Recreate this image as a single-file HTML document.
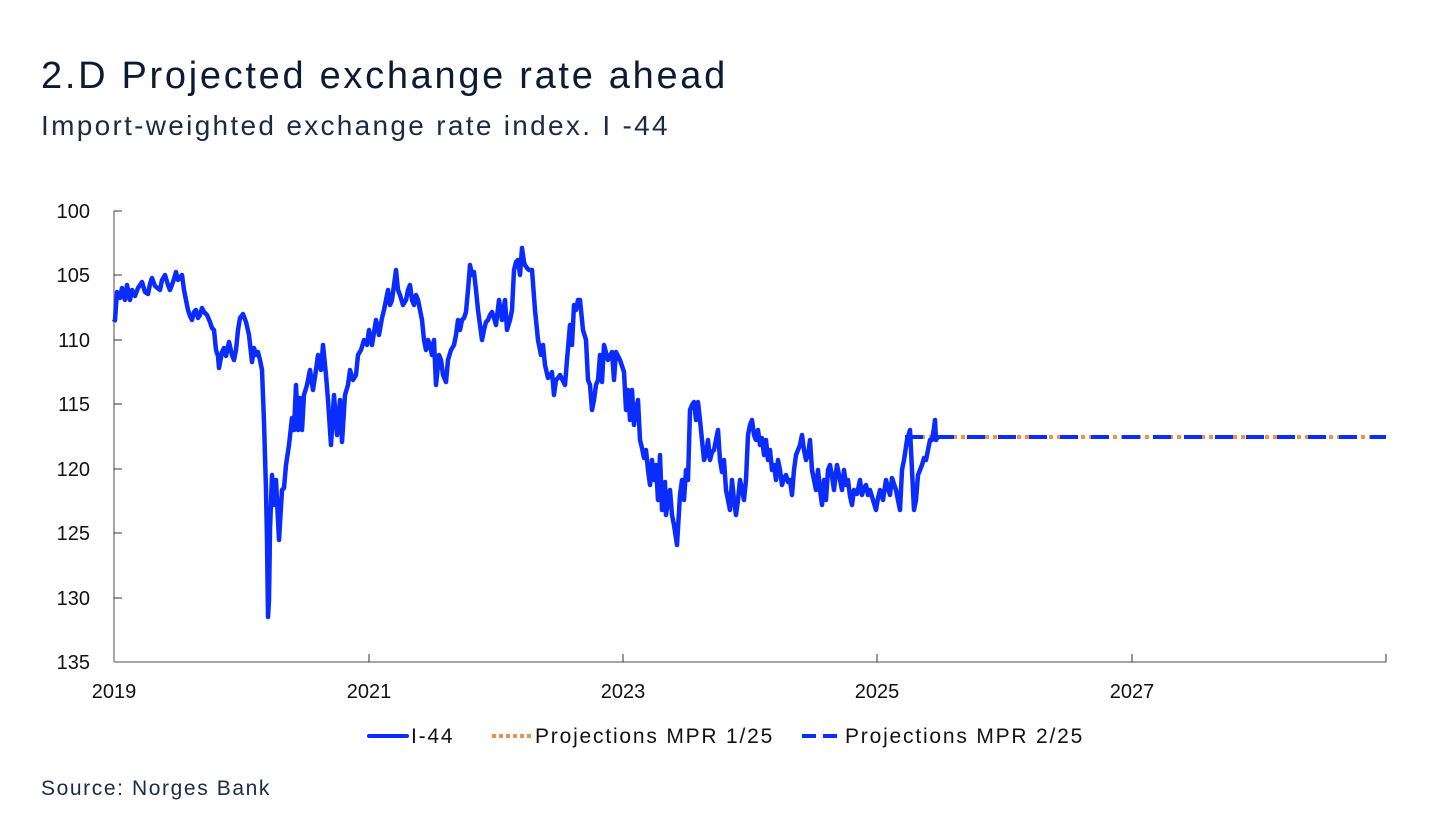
<!DOCTYPE html>
<html><head><meta charset="utf-8"><style>
body{margin:0;background:#fff;width:1445px;height:819px;overflow:hidden;font-family:"Liberation Sans",sans-serif;}
svg{position:absolute;left:0;top:0}
</style></head><body>
<svg width="1445" height="819" xmlns="http://www.w3.org/2000/svg">
<text x="41" y="88" font-size="38" font-weight="500" fill="#0b1b36" letter-spacing="2.7">2.D Projected exchange rate ahead</text>
<text x="41" y="135" font-size="28" fill="#1c2a44" letter-spacing="2.3">Import-weighted exchange rate index. I -44</text>
<g font-size="20" fill="#111">
<text x="90" y="218" text-anchor="end">100</text>
<text x="90" y="282" text-anchor="end">105</text>
<text x="90" y="347" text-anchor="end">110</text>
<text x="90" y="411" text-anchor="end">115</text>
<text x="90" y="476" text-anchor="end">120</text>
<text x="90" y="540" text-anchor="end">125</text>
<text x="90" y="605" text-anchor="end">130</text>
<text x="90" y="669" text-anchor="end">135</text>
<text x="114" y="698" text-anchor="middle">2019</text>
<text x="369" y="698" text-anchor="middle">2021</text>
<text x="623" y="698" text-anchor="middle">2023</text>
<text x="877" y="698" text-anchor="middle">2025</text>
<text x="1132" y="698" text-anchor="middle">2027</text>
</g>
<g stroke="#888" stroke-width="1.5">
<line x1="114" y1="211" x2="114" y2="662"/>
<line x1="114" y1="662" x2="1386" y2="662"/>
</g>
<g stroke="#333" stroke-width="1">
<line x1="114" y1="211" x2="122" y2="211"/><line x1="114" y1="275" x2="122" y2="275"/>
<line x1="114" y1="340" x2="122" y2="340"/><line x1="114" y1="404" x2="122" y2="404"/>
<line x1="114" y1="469" x2="122" y2="469"/><line x1="114" y1="533" x2="122" y2="533"/>
<line x1="114" y1="598" x2="122" y2="598"/>
<line x1="369" y1="654" x2="369" y2="662"/><line x1="623" y1="654" x2="623" y2="662"/>
<line x1="877" y1="654" x2="877" y2="662"/><line x1="1132" y1="654" x2="1132" y2="662"/>
<line x1="1386" y1="654" x2="1386" y2="662"/>
</g>
<line x1="905" y1="437" x2="1386" y2="437" stroke="#f0924a" stroke-width="4" stroke-dasharray="4 4"/>
<line x1="905" y1="437" x2="1386" y2="437" stroke="#0a2cff" stroke-width="4" stroke-dasharray="18 13"/>
<polyline fill="none" stroke="#0a2cff" stroke-width="4.5" stroke-linejoin="round" points="114,322 115,320 117,292 120,298 122,288 125,300 127,285 130,300 132,290 135,296 138,288 142,282 145,292 148,294 150,284 152,278 155,286 160,290 162,280 165,275 168,285 170,290 173,282 176,272 178,280 182,275 184,290 188,310 190,316 192,320 194,312 196,310 198,318 200,315 202,308 204,312 207,315 210,322 212,328 214,330 216,350 218,356 219,368 222,352 224,348 226,356 229,342 232,355 234,360 236,350 238,330 240,318 243,314 246,322 249,335 252,362 254,348 256,355 258,352 260,360 262,370 264,422 266,490 267,540 268,617 269,600 270,530 272,475 274,505 276,480 278,520 279,540 282,490 284,488 286,465 289,445 292,418 294,430 296,385 298,430 300,398 302,430 304,395 307,385 310,370 313,390 316,370 318,355 321,370 323,345 326,375 328,400 331,445 334,395 337,435 340,400 342,442 345,395 348,385 350,370 353,380 356,375 358,355 361,350 364,340 367,345 369,330 372,345 376,320 379,335 382,318 384,310 388,290 390,305 392,300 394,285 396,270 398,290 400,295 403,305 406,300 408,290 410,285 412,300 414,305 416,295 418,300 420,310 422,320 424,340 426,350 428,340 430,345 432,355 434,340 436,385 439,355 441,360 443,375 446,382 448,360 451,350 454,345 456,335 458,320 460,330 462,320 464,318 466,312 468,290 470,265 472,275 474,272 476,290 478,310 480,325 482,340 484,330 486,322 488,320 490,315 492,312 494,318 496,325 499,300 502,320 505,300 507,330 510,320 512,310 514,270 516,262 518,260 520,275 522,248 524,262 525,265 527,268 529,270 532,270 535,310 538,340 541,355 543,345 545,365 548,378 550,376 552,372 554,395 556,380 558,378 560,375 565,385 567,360 570,325 572,345 574,305 576,310 578,300 580,300 583,330 586,340 588,380 590,385 592,410 594,400 596,385 598,380 600,355 602,382 604,345 608,360 612,352 614,380 616,352 620,360 624,372 626,410 628,390 630,420 632,390 634,425 636,410 638,400 640,440 642,448 644,458 646,450 648,470 650,485 652,460 654,480 656,465 658,500 660,455 662,510 665,482 666,515 668,500 670,490 672,515 674,525 677,545 680,495 682,480 684,500 686,470 688,480 690,410 692,405 694,402 696,420 697,405 698,402 700,420 702,440 704,460 706,455 708,440 710,460 712,452 714,450 716,440 718,430 720,460 722,472 724,460 726,490 728,500 730,510 732,480 734,500 736,515 738,500 740,480 742,490 744,500 746,480 748,435 750,425 752,420 754,435 756,440 758,430 760,445 762,438 764,455 766,440 768,460 770,450 772,470 774,465 776,480 778,460 780,470 782,485 784,478 786,475 788,482 790,480 792,495 794,470 796,455 798,450 800,445 802,435 804,450 806,460 808,455 810,440 812,470 814,480 816,490 817,480 818,470 820,490 822,505 824,480 826,500 828,470 830,465 832,476 834,490 836,472 837,465 840,480 842,490 844,470 846,485 848,480 850,496 852,505 854,490 857,494 860,480 862,495 864,488 866,485 868,495 870,490 873,500 876,510 878,498 880,490 883,500 886,480 888,488 890,495 892,478 894,484 896,490 898,500 900,510 902,470 904,460 907,440 910,430 912,470 914,510 916,500 918,475 920,470 922,465 924,458 926,460 928,450 930,440 932,440 934,428 935,420 936,440 938,437"/>
<g font-size="21" fill="#111" letter-spacing="1.8">
<line x1="369" y1="736" x2="407" y2="736" stroke="#0a2cff" stroke-width="4" stroke-linecap="round"/>
<text x="411" y="743">I-44</text>
<line x1="492" y1="736" x2="532" y2="736" stroke="#f0924a" stroke-width="4" stroke-dasharray="4 3"/>
<text x="535" y="743">Projections MPR 1/25</text>
<line x1="802" y1="736" x2="842" y2="736" stroke="#0a2cff" stroke-width="4" stroke-dasharray="14 7"/>
<text x="845" y="743">Projections MPR 2/25</text>
</g>
<text x="41" y="795" font-size="21" fill="#1c2a44" letter-spacing="1.6">Source: Norges Bank</text>
</svg>
</body></html>
